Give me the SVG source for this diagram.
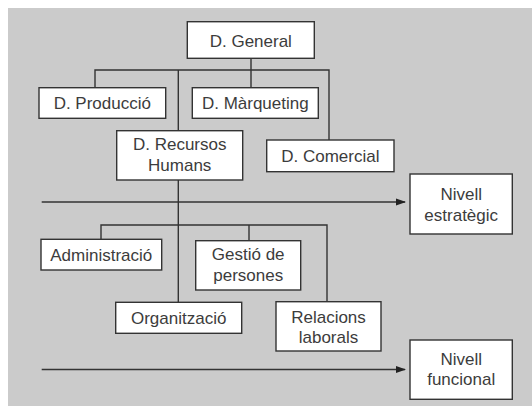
<svg xmlns="http://www.w3.org/2000/svg" width="532" height="406" viewBox="0 0 532 406">
<defs>
<style>
.node rect{fill:#fff;stroke:#333;stroke-width:1.4}
.node text{font-family:"Liberation Sans",Arial,sans-serif;font-size:17px;fill:#3c3c3c;text-anchor:middle}
#connectors path{fill:none;stroke:#333;stroke-width:1.4}
</style>
<marker id="arr" markerWidth="10" markerHeight="8" refX="9" refY="4" orient="auto" markerUnits="userSpaceOnUse">
<path d="M0,0.5 L10,4 L0,7.5 Z" fill="#222"/>
</marker>
</defs>
<rect x="0" y="0" width="532" height="406" fill="#fff"/>
<rect x="8" y="8" width="524" height="398" fill="#cbcbcb"/>
<g id="connectors">
<path d="M251,58.3 V70 M95,87.7 V70 H329 V140 M251,70 V87.7 M178.3,70 V130.7"/>
<path d="M178.3,180 V302.3 M101,239.3 V225 H327 V301.7 M249,225 V240.7"/>
<path d="M41.7,202 H405" marker-end="url(#arr)"/>
<path d="M41.7,369.5 H405" marker-end="url(#arr)"/>
</g>
<g id="n-general" class="node"><rect x="187.3" y="21.7" width="127" height="36.6"/><text x="250.8" y="46.5">D. General</text></g>
<g id="n-produccio" class="node"><rect x="39" y="87.7" width="126.7" height="30.6"/><text x="102.3" y="109">D. Producció</text></g>
<g id="n-marqueting" class="node"><rect x="192.3" y="87.7" width="126" height="30.6"/><text x="255.3" y="109">D. Màrqueting</text></g>
<g id="n-rrhh" class="node"><rect x="116.7" y="130.7" width="126" height="49.3"/><text x="179.7" y="150">D. Recursos</text><text x="179.7" y="171">Humans</text></g>
<g id="n-comercial" class="node"><rect x="266.7" y="140" width="127.3" height="31.7"/><text x="330.3" y="162">D. Comercial</text></g>
<g id="n-estrategic" class="node"><rect x="410" y="174" width="102.3" height="60"/><text x="461.2" y="199.5">Nivell</text><text x="461.2" y="220.5">estratègic</text></g>
<g id="n-admin" class="node"><rect x="41" y="239.3" width="120.7" height="30.7"/><text x="101.3" y="261">Administració</text></g>
<g id="n-gestio" class="node"><rect x="195.7" y="240.7" width="105" height="49.3"/><text x="248.2" y="260">Gestió de</text><text x="248.2" y="281">persones</text></g>
<g id="n-organitzacio" class="node"><rect x="115.7" y="302.3" width="126" height="31"/><text x="178.7" y="324">Organització</text></g>
<g id="n-relacions" class="node"><rect x="276" y="301.7" width="105" height="49.3"/><text x="328.5" y="322.5">Relacions</text><text x="328.5" y="343.3">laborals</text></g>
<g id="n-funcional" class="node"><rect x="410" y="340" width="102.3" height="59.3"/><text x="461.2" y="364.5">Nivell</text><text x="461.2" y="385">funcional</text></g>
</svg>
